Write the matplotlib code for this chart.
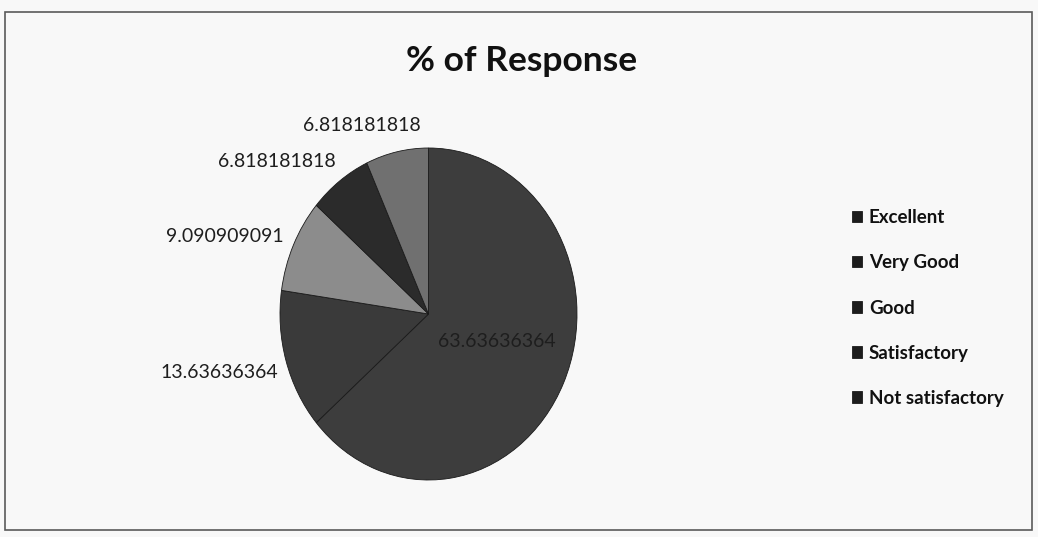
import numpy as np
import matplotlib.pyplot as plt
from matplotlib.patches import Rectangle

#------------------------------------------------------------------
categories = ["Excellent", "Very Good", "Good", "Satisfactory", "Not satisfactory"]
values = [63.63636364, 13.63636364, 9.090909091, 6.818181818, 6.818181818]
value_labels = ["63.63636364", "13.63636364", "9.090909091", "6.818181818", "6.818181818"]
title = "% of Response"
#------------------------------------------------------------------

COLORS = ["#3d3d3d", "#3a3a3a", "#8c8c8c", "#2b2b2b", "#707070"]
# where each data label sits: radial distance, angle nudge (deg), horizontal alignment
LABEL_POS = [(0.49, 5.0, "center"), (1.07, 3.0, "right"), (1.08, -1.0, "right"),
             (1.11, -2.4, "right"), (1.22, 9.2, "center")]

fig = plt.figure(figsize=(10.38, 5.37), dpi=100)
fig.patch.set_facecolor("#f8f8f8")
fig.patches.append(Rectangle((5/1038, 7/537), 1027/1038, 518/537, transform=fig.transFigure,
                             fill=False, edgecolor="#5a5a5a", linewidth=1.2))

# the photographed pie is a bit taller than wide, so keep aspect auto
ax = fig.add_axes([280/1038, 57/537, 297/1038, 332/537])
wedges, _ = ax.pie(values, colors=COLORS, startangle=90, counterclock=False,
                   wedgeprops=dict(edgecolor="#1a1a1a", linewidth=0.6))
ax.set_aspect("auto")
ax.set_xlim(-1, 1)
ax.set_ylim(-1, 1)

for w, lab, (r, nudge, ha) in zip(wedges, value_labels, LABEL_POS):
    mid = np.deg2rad((w.theta1 + w.theta2) / 2 + nudge)
    ax.text(r*np.cos(mid), r*np.sin(mid), lab, ha=ha, va="center",
            family="Lato", fontsize=14, color="#1e1e1e", clip_on=False)

fig.text(522/1038, 1-61/537, title, ha="center", va="center",
         family="Lato", fontweight="bold", fontsize=25.5, color="#111111")

leg = fig.legend(wedges, categories, loc="center left", bbox_to_anchor=(835/1038, 1-308/537),
                 frameon=False, handlelength=0.55, handleheight=0.55, handletextpad=0.35,
                 labelspacing=1.5, prop=dict(family="Lato", size=13.5, weight="bold"))
for t in leg.get_texts():
    t.set_color("#111111")
for h in leg.legend_handles:
    h.set_facecolor("#1c1c1c")

plt.savefig("out.png", dpi=100, facecolor=fig.get_facecolor())
